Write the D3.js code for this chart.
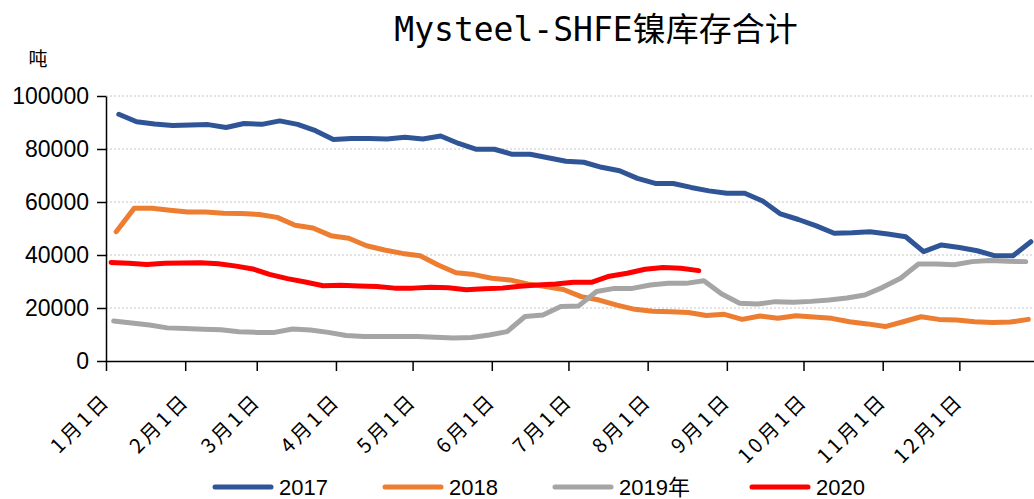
<!DOCTYPE html>
<html lang="zh">
<head>
  <meta charset="UTF-8">
  <title>Mysteel-SHFE镍库存合计</title>
  <script src="https://d3js.org/d3.v7.min.js"></script>
  <style>
    body { margin: 0; background: #fff; }
    svg { display: block; }
    .title { font-family: "DejaVu Sans Mono", "Noto Sans CJK SC", monospace; font-size: 33px; }
    .unit { font-family: "Noto Sans CJK SC", sans-serif; font-size: 19px; }
    .y-axis text { font-family: "Liberation Sans", Arial, sans-serif; font-size: 23px; fill: #000; }
    .x-axis text { font-family: "Noto Sans CJK SC", sans-serif; font-size: 20px; letter-spacing: 3px; fill: #000; }
    .legend text { font-family: "Liberation Sans", "Noto Sans CJK SC", sans-serif; font-size: 22px; }
    .grid line { stroke: #c6c6c6; stroke-dasharray: 2,2; }
  </style>
</head>
<body>
  <svg width="1034" height="499"></svg>
  <script>
    // tick labels on the x axis
    const monthLabels = ["1月1日", "2月1日", "3月1日", "4月1日", "5月1日", "6月1日",
                         "7月1日", "8月1日", "9月1日", "10月1日", "11月1日", "12月1日"];

    // series names and first weekly release date of each year (weekly Fridays)
    const seriesNames = ["2017", "2018", "2019年", "2020"];
    const firstDates = ["2017-01-06", "2018-01-05", "2019-01-04", "2020-01-03"];
    const colors = ["#2f5597", "#ed7d31", "#a5a5a5", "#ff0000"];

    // weekly inventory, tonnes
    const v2017 = [93100, 90300, 89400, 88900, 89100, 89200, 88100, 89600, 89300, 90600,
                   89300, 86900, 83600, 84000, 84000, 83800, 84400, 83800, 84900, 82100,
                   79900, 79900, 78000, 78000, 76700, 75400, 75000, 73100, 71800, 68900,
                   67000, 67000, 65500, 64200, 63300, 63300, 60400, 55500, 53400, 51000,
                   48200, 48400, 48800, 47900, 46900, 41300, 43800, 42800, 41600, 39700,
                   39700, 45000];
    const v2018 = [48800, 57600, 57600, 56900, 56200, 56200, 55800, 55700, 55300, 54200,
                   51200, 50200, 47300, 46300, 43500, 41900, 40600, 39700, 36200, 33300,
                   32600, 31200, 30600, 29100, 28100, 27000, 24300, 23000, 21100, 19500,
                   18800, 18600, 18300, 17200, 17600, 15700, 17000, 16100, 17100, 16600,
                   16100, 14800, 14000, 13000, 14800, 16700, 15700, 15500, 14800, 14500,
                   14700, 15700];
    const v2019 = [15100, 14300, 13600, 12500, 12300, 12000, 11800, 11000, 10800, 10800,
                   12100, 11700, 10800, 9600, 9200, 9200, 9200, 9200, 9000, 8700,
                   8900, 9800, 11100, 16800, 17400, 20600, 20800, 26200, 27400, 27400,
                   28700, 29300, 29300, 30300, 25300, 21800, 21500, 22400, 22200, 22500,
                   23000, 23800, 24900, 27800, 31200, 36600, 36600, 36300, 37500, 37900,
                   37600, 37500];
    const v2020 = [37200, 36900, 36400, 36900, 37000, 37100, 36700, 35800, 34600, 32700,
                   31100, 29800, 28400, 28600, 28300, 28100, 27500, 27500, 27800, 27600,
                   26900, 27300, 27500, 28200, 28700, 29100, 29700, 29700, 32000, 33100,
                   34600, 35300, 35000, 34100];
    const seriesValues = [v2017, v2018, v2019, v2020];

    const yTicks = [0, 20000, 40000, 60000, 80000, 100000];

    const svg = d3.select("svg");
    const margin = { left: 106, top: 96, bottom: 361, right: 1036 };

    // all years are laid onto one common calendar year
    const parse = d3.timeParse("%Y-%m-%d");
    const onCommonYear = d => new Date(2001, d.getMonth(), d.getDate());

    const x = d3.scaleTime()
      .domain([new Date(2001, 0, 1), new Date(2001, 11, 31)])
      .range([margin.left, margin.right]);

    const y = d3.scaleLinear()
      .domain([0, 100000])
      .range([margin.bottom, margin.top]);

    // title and unit
    svg.append("text")
      .attr("class", "title")
      .attr("x", 596)
      .attr("y", 41)
      .attr("text-anchor", "middle")
      .text("Mysteel-SHFE镍库存合计");

    svg.append("text")
      .attr("class", "unit")
      .attr("x", 38)
      .attr("y", 66)
      .attr("text-anchor", "middle")
      .text("吨");

    // gridlines
    svg.append("g")
      .attr("class", "grid")
      .selectAll("line")
      .data(yTicks.filter(d => d > 0))
      .enter().append("line")
      .attr("x1", margin.left)
      .attr("x2", 1034)
      .attr("y1", d => y(d))
      .attr("y2", d => y(d));

    // series lines
    const line = d3.line()
      .x(d => x(d.date))
      .y(d => y(d.value));

    const seriesData = seriesNames.map((name, i) => {
      const start = parse(firstDates[i]);
      return seriesValues[i].map((value, k) => ({
        date: onCommonYear(d3.timeDay.offset(start, 7 * k)),
        value: value
      }));
    });

    svg.append("g")
      .selectAll("path")
      .data(seriesData)
      .enter().append("path")
      .attr("fill", "none")
      .attr("stroke", (d, i) => colors[i])
      .attr("stroke-width", 5)
      .attr("stroke-linejoin", "round")
      .attr("stroke-linecap", "round")
      .attr("d", line);

    // y axis
    const yAxis = svg.append("g")
      .attr("class", "y-axis")
      .attr("transform", `translate(${margin.left},0)`)
      .call(d3.axisLeft(y).tickValues(yTicks).tickFormat(d3.format("d"))
        .tickSize(9).tickSizeOuter(0).tickPadding(8));
    yAxis.selectAll("line, path").attr("stroke", "#000").attr("stroke-width", 1.5);

    // x axis
    const monthStarts = monthLabels.map((d, i) => new Date(2001, i, 1));
    const xAxis = svg.append("g")
      .attr("class", "x-axis")
      .attr("transform", `translate(0,${margin.bottom})`)
      .call(d3.axisBottom(x).tickValues(monthStarts).tickSize(10).tickSizeOuter(0)
        .tickFormat((d, i) => monthLabels[i]));
    xAxis.selectAll("line, path").attr("stroke", "#000").attr("stroke-width", 1.5);
    xAxis.selectAll("text")
      .attr("y", 0)
      .attr("dy", "0.35em")
      .attr("text-anchor", "end")
      .attr("transform", "translate(0,36) rotate(-45)");

    // legend
    const legendX = [215, 385, 555, 752];
    const legend = svg.append("g")
      .attr("class", "legend")
      .selectAll("g")
      .data(seriesNames)
      .enter().append("g")
      .attr("transform", (d, i) => `translate(${legendX[i]},487)`);

    legend.append("line")
      .attr("x1", 0).attr("x2", 56)
      .attr("stroke", (d, i) => colors[i])
      .attr("stroke-width", 5)
      .attr("stroke-linecap", "round");

    legend.append("text")
      .attr("x", 64)
      .attr("dy", "0.36em")
      .text(d => d);
  </script>
</body>
</html>
